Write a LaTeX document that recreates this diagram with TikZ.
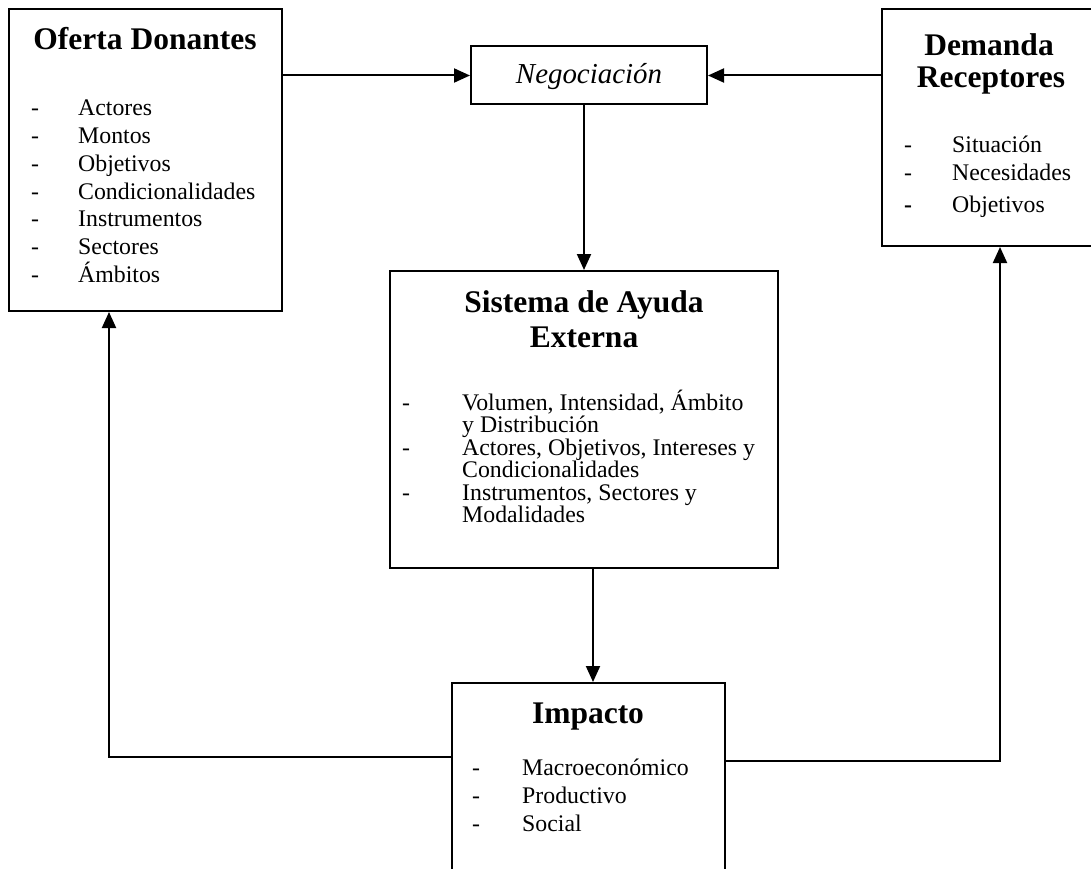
\documentclass[tikz,border=0pt]{standalone}
\usepackage{fontspec}
\setmainfont{Liberation Serif}
\usetikzlibrary{arrows.meta}
\begin{document}
\begin{tikzpicture}[x=1pt,y=-1pt,
  box/.style={draw, line width=2pt, inner sep=0pt, rectangle},
  arr/.style={line width=2pt, -{Triangle[length=16pt,width=14pt]}},
  ttl/.style={font=\fontsize{31.5}{36}\selectfont\bfseries, anchor=base, inner sep=0pt},
  itm/.style={font=\fontsize{23.8}{27}\selectfont, anchor=base west, inner sep=0pt},
  negtxt/.style={font=\fontsize{28.9}{33}\selectfont\itshape, anchor=base, inner sep=0pt}]
\useasboundingbox (0,0) rectangle (1091,869);
\fill[white] (0,0) rectangle (1091,869);
\begin{scope}
\clip (0,0) rectangle (1091,869);
% boxes
\node[box, minimum width=273, minimum height=302] (of) at (145.5,160) {};
\node[box, minimum width=236, minimum height=58] (ng) at (589,75.5) {};
\node[box, minimum width=230, minimum height=237] (dem) at (997,127.5) {};
\node[box, minimum width=388, minimum height=297] (sis) at (584,419.5) {};
\node[box, minimum width=273, minimum height=230] (imp) at (588.5,798) {};
% connectors
\coordinate (lc) at (109,757);
\coordinate (rc) at (1000,761);
\draw[arr] (ng.west -| of.east) -- (ng.west);
\draw[arr] (ng.east -| dem.west) -- (ng.east);
\draw[arr] (ng.south -| sis.north) -- (sis.north);
\draw[arr] ([xshift=4.5pt]imp.north |- sis.south) -- ([xshift=4.5pt]imp.north);
\draw[arr] (imp.west |- lc) -- (lc) -- (lc |- of.south);
\draw[arr] (imp.east |- rc) -- (rc) -- (rc |- dem.south);
% Negociacion
\node[negtxt] (ngt) at (589,83.5) {Negociación};
% Oferta Donantes
\node[ttl] (oft) at (145,50) {Oferta Donantes};
\node[itm] (ofd1) at (31,116) {-};
\node[itm] (ofd2) at (31,143.7) {-};
\node[itm] (ofd3) at (31,171.4) {-};
\node[itm] (ofd4) at (31,199) {-};
\node[itm] (ofd5) at (31,226.8) {-};
\node[itm] (ofd6) at (31,254.5) {-};
\node[itm] (ofd7) at (31,282) {-};
\node[itm] (of1) at (78,116) {Actores};
\node[itm] (of2) at (78,143.7) {Montos};
\node[itm] (of3) at (78,171.4) {Objetivos};
\node[itm] (of4) at (78,199) {Condicionalidades};
\node[itm] (of5) at (78,226.8) {Instrumentos};
\node[itm] (of6) at (78,254.5) {Sectores};
\node[itm] (of7) at (78,282) {Ámbitos};
% Demanda Receptores
\node[ttl] (demt1) at (989,56) {Demanda};
\node[ttl] (demt2) at (991,88) {Receptores};
\node[itm] (demd1) at (904,153) {-};
\node[itm] (demd2) at (904,180) {-};
\node[itm, font=\fontsize{23.8}{27}\selectfont\bfseries] (demd3) at (904,212) {-};
\node[itm] (dem1) at (952,153) {Situación};
\node[itm] (dem2) at (952,180) {Necesidades};
\node[itm] (dem3) at (952,212) {Objetivos};
% Sistema de Ayuda Externa
\node[ttl] (sist1) at (584,312) {Sistema de Ayuda};
\node[ttl] (sist2) at (584,347) {Externa};
\node[itm] (sisd1) at (402,410) {-};
\node[itm] (sisd2) at (402,455) {-};
\node[itm] (sisd3) at (402,500) {-};
\node[itm] (sis1) at (462,410) {Volumen, Intensidad, Ámbito};
\node[itm] (sis2) at (462,432.5) {y Distribución};
\node[itm] (sis3) at (462,455) {Actores, Objetivos, Intereses y};
\node[itm] (sis4) at (462,477.5) {Condicionalidades};
\node[itm] (sis5) at (462,500) {Instrumentos, Sectores y};
\node[itm] (sis6) at (462,522.5) {Modalidades};
% Impacto
\node[ttl] (impt) at (588,723) {Impacto};
\node[itm] (impd1) at (472,775) {-};
\node[itm] (impd2) at (472,803) {-};
\node[itm] (impd3) at (472,831) {-};
\node[itm] (imp1) at (522,775) {Macroeconómico};
\node[itm] (imp2) at (522,803) {Productivo};
\node[itm] (imp3) at (522,831) {Social};
\end{scope}
\end{tikzpicture}
\end{document}
